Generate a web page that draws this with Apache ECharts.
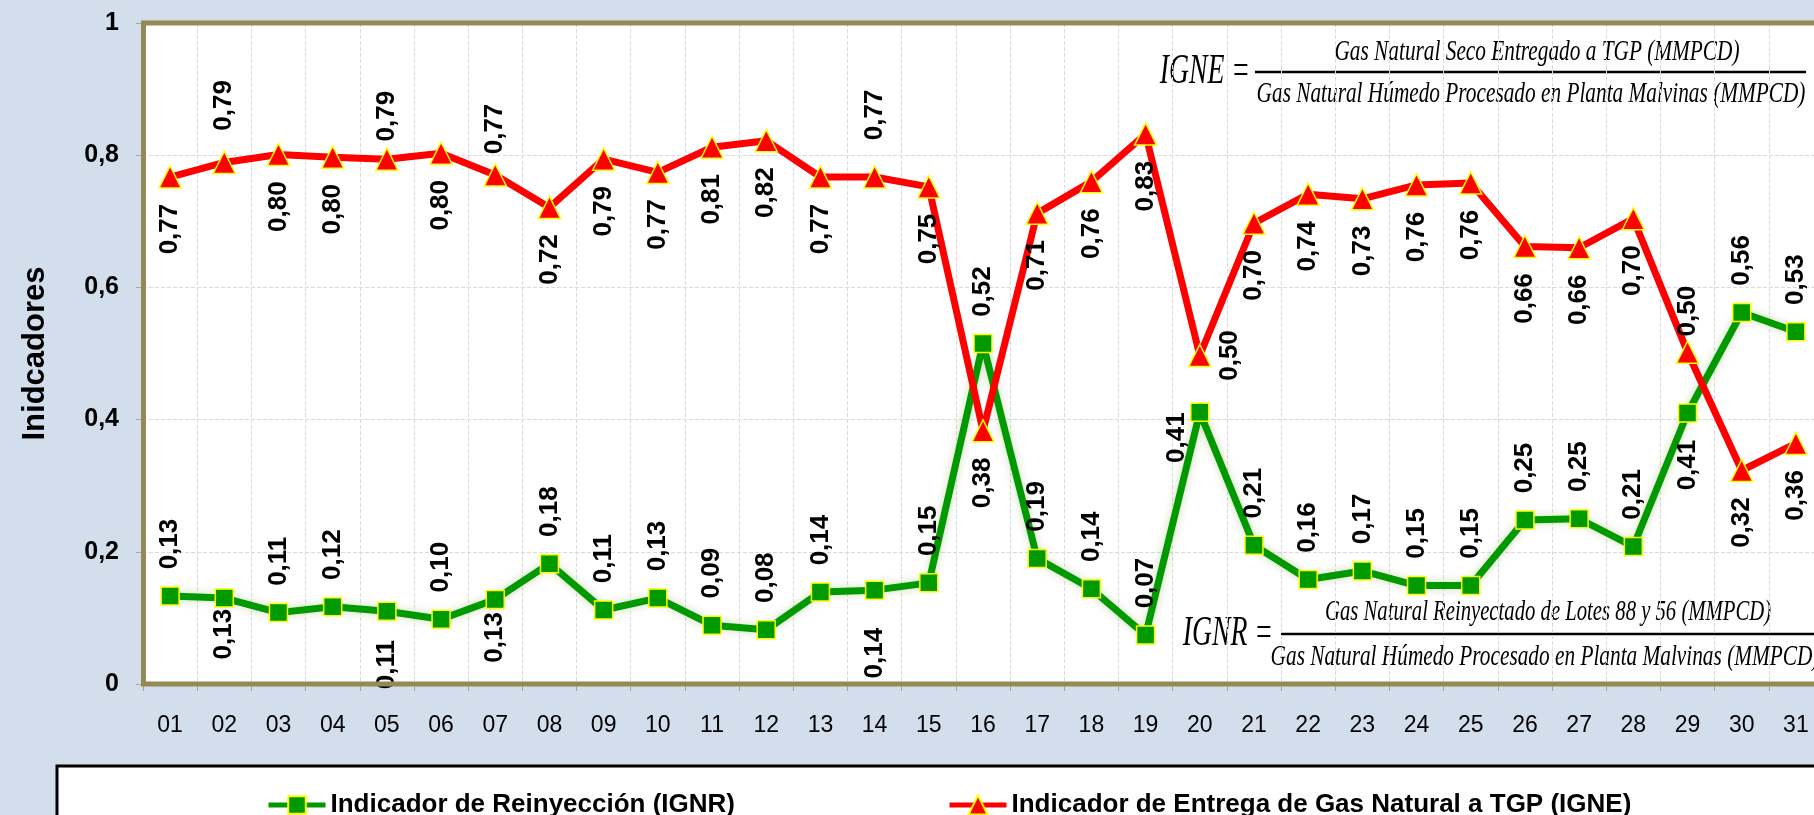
<!DOCTYPE html>
<html>
<head>
    <meta charset="utf-8">
    <title>Indicadores IGNR / IGNE</title>
    <script src="https://cdn.jsdelivr.net/npm/echarts@6.0.0/dist/echarts.min.js"></script>
    <style>
        html, body { margin: 0; padding: 0; background: #D3DEED; }
        #main { width: 1814px; height: 815px; }
    </style>
</head>
<body>
    <div id="main"></div>
    <script>
        // dias del mes
        var days = ['01', '02', '03', '04', '05', '06', '07', '08', '09', '10', '11', '12', '13', '14', '15', '16',
                    '17', '18', '19', '20', '21', '22', '23', '24', '25', '26', '27', '28', '29', '30', '31'];

        // Indicador de Reinyeccion (IGNR)
        var ignr = [0.133, 0.130, 0.108, 0.117, 0.110, 0.098, 0.128, 0.182, 0.112, 0.130, 0.089, 0.082, 0.139, 0.142, 0.153, 0.515,
                    0.190, 0.144, 0.074, 0.411, 0.210, 0.158, 0.171, 0.149, 0.149, 0.248, 0.250, 0.208, 0.410, 0.562, 0.533];

        // Indicador de Entrega de Gas Natural a TGP (IGNE)
        var igne = [0.767, 0.789, 0.801, 0.797, 0.794, 0.803, 0.770, 0.721, 0.794, 0.774, 0.812, 0.822, 0.767, 0.767, 0.752, 0.383,
                    0.712, 0.760, 0.832, 0.497, 0.697, 0.741, 0.734, 0.755, 0.758, 0.662, 0.660, 0.704, 0.502, 0.323, 0.364];

        var yTicks = [0, 0.2, 0.4, 0.6, 0.8, 1];

        // donde va cada etiqueta (t = arriba, b = abajo, l/r = lados) y su separacion
        var ignrSide = ['t','b','t','t','b','t','b','t','t','t','t','t','t','b','t','t','t','t','t','l','t','t','t','t','t','t','t','t','b','t','t'];
        var ignrGap  = [26, 10, 26, 26, 28, 26, 12, 26, 26, 26, 26, 26, 26, 37, 26, 26, 26, 26, 26, 22, 26, 26, 26, 26, 26, 26, 26, 26, 26, 26, 26];
        var igneSide = ['b','t','b','b','t','b','t','b','b','b','b','b','b','t','b','b','b','b','b','r','b','b','b','b','b','b','b','b','t','b','b'];
        var igneGap  = [26, 31, 26, 26, 17, 26, 20, 26, 26, 26, 26, 26, 26, 36, 26, 26, 26, 26, 26, 29, 26, 26, 26, 26, 26, 26, 26, 26, 15, 26, 26];

        function fmt(v) {
            return v.toFixed(2).replace('.', ',');
        }

        function buildData(vals, sides, gaps, half) {
            return vals.map(function (v, i) {
                var s = sides[i];
                var lab = { distance: gaps[i] - half };
                if (s === 't') { lab.position = 'top'; lab.align = 'left'; }
                else if (s === 'b') { lab.position = 'bottom'; lab.align = 'right'; }
                else if (s === 'r') { lab.position = 'right'; lab.align = 'center'; }
                else { lab.position = 'left'; lab.align = 'right'; }
                return { value: v, label: lab };
            });
        }

        var labelBase = {
            show: true,
            rotate: 90,
            verticalAlign: 'middle',
            color: '#000',
            fontFamily: 'Liberation Sans',
            fontWeight: 'bold',
            fontSize: 26,
            formatter: function (p) { return fmt(p.value); }
        };

        var eqFont = 'italic 30px "Liberation Serif"';
        var eqBig = 'italic 42px "Liberation Serif"';
        var legendText = { fontFamily: 'Liberation Sans', fontWeight: 'bold', fontSize: 26, color: '#000' };

        var myChart = echarts.init(document.getElementById('main'));

        var option = {
            backgroundColor: '#D3DEED',
            animation: false,
            grid: {
                left: 143,
                top: 23,
                width: 1680,
                height: 661,
                outerBoundsMode: 'none',
                containLabel: false,
                show: true,
                backgroundColor: '#FFFFFF',
                borderWidth: 0
            },
            legend: [{
                data: ['Indicador de Reinyección (IGNR)'],
                left: 261,
                top: 787,
                itemWidth: 57,
                itemHeight: 22,
                itemGap: 5,
                z: 10,
                lineStyle: { width: 5 },
                textStyle: legendText
            }, {
                data: ['Indicador de Entrega de Gas Natural a TGP (IGNE)'],
                left: 942,
                top: 787,
                itemWidth: 57,
                itemHeight: 24,
                itemGap: 5,
                z: 10,
                lineStyle: { width: 5 },
                textStyle: legendText
            }],
            xAxis: {
                type: 'category',
                data: days,
                boundaryGap: true,
                axisLine: { show: false },
                axisTick: { show: true, length: 7, lineStyle: { color: '#B0A980', width: 1 } },
                axisLabel: { margin: 30, fontFamily: 'Liberation Sans', fontSize: 23, color: '#000' },
                splitLine: { show: true, lineStyle: { color: '#DADADA', type: 'dashed', width: 1 } }
            },
            yAxis: {
                type: 'value',
                min: yTicks[0],
                max: yTicks[yTicks.length - 1],
                interval: 0.2,
                name: 'Inidcadores',
                nameLocation: 'middle',
                nameGap: 92,
                nameTextStyle: { fontFamily: 'Liberation Sans', fontWeight: 'bold', fontSize: 31, color: '#000' },
                axisLine: { show: false },
                axisTick: { show: true, length: 7, lineStyle: { color: '#B0A980', width: 1 } },
                axisLabel: {
                    margin: 24,
                    fontFamily: 'Liberation Sans', fontWeight: 'bold', fontSize: 25, color: '#000',
                    formatter: function (v) {
                        var r = Math.round(v * 10) / 10;
                        return String(r).replace('.', ',');
                    }
                },
                splitLine: { show: true, lineStyle: { color: '#DADADA', type: 'dashed', width: 1 } }
            },
            series: [{
                name: 'Indicador de Reinyección (IGNR)',
                type: 'line',
                data: buildData(ignr, ignrSide, ignrGap, 9),
                symbol: 'rect',
                symbolSize: 18,
                z: 2,
                lineStyle: { color: '#009900', width: 7, shadowColor: 'rgba(110,160,40,0.35)', shadowBlur: 8 },
                itemStyle: { color: '#009900', borderColor: '#FFFF00', borderWidth: 1.5 },
                label: labelBase
            }, {
                name: 'Indicador de Entrega de Gas Natural a TGP (IGNE)',
                type: 'line',
                data: buildData(igne, igneSide, igneGap, 11),
                symbol: 'triangle',
                symbolSize: 22,
                z: 3,
                lineStyle: { color: '#FF0000', width: 7 },
                itemStyle: { color: '#FF0000', borderColor: '#FFFF00', borderWidth: 1.5 },
                label: labelBase
            }],
            graphic: [
                // recuadro de la leyenda
                {
                    type: 'rect', z: 1,
                    shape: { x: 57, y: 766, width: 1800, height: 100 },
                    style: { fill: '#FFFFFF', stroke: '#000000', lineWidth: 3 }
                },
                // formula IGNE
                {
                    type: 'group', z: 20,
                    children: [
                        { type: 'rect', shape: { x: 1155, y: 28, width: 670, height: 86 }, style: { fill: '#FFFFFF' } },
                        { type: 'text', x: 1250, y: 72, scaleX: 0.66,
                          style: { text: 'IGNE =', font: eqBig, fill: '#000', align: 'right', verticalAlign: 'middle' } },
                        { type: 'text', x: 1537, y: 52, scaleX: 0.71,
                          style: { text: 'Gas Natural Seco Entregado a TGP (MMPCD)', font: eqFont, fill: '#000', align: 'center', verticalAlign: 'middle' } },
                        { type: 'line', shape: { x1: 1255, y1: 72, x2: 1806, y2: 72 }, style: { stroke: '#000', lineWidth: 2.5 } },
                        { type: 'text', x: 1531, y: 94, scaleX: 0.71,
                          style: { text: 'Gas Natural Húmedo Procesado en Planta Malvinas (MMPCD)', font: eqFont, fill: '#000', align: 'center', verticalAlign: 'middle' } }
                    ]
                },
                // formula IGNR
                {
                    type: 'group', z: 20,
                    children: [
                        { type: 'rect', shape: { x: 1178, y: 591, width: 650, height: 91 }, style: { fill: '#FFFFFF' } },
                        { type: 'text', x: 1273, y: 634, scaleX: 0.66,
                          style: { text: 'IGNR =', font: eqBig, fill: '#000', align: 'right', verticalAlign: 'middle' } },
                        { type: 'text', x: 1548, y: 612, scaleX: 0.69,
                          style: { text: 'Gas Natural Reinyectado de Lotes 88 y 56 (MMPCD)', font: eqFont, fill: '#000', align: 'center', verticalAlign: 'middle' } },
                        { type: 'line', shape: { x1: 1281, y1: 634, x2: 1814, y2: 634 }, style: { stroke: '#000', lineWidth: 2.5 } },
                        { type: 'text', x: 1545, y: 657, scaleX: 0.71,
                          style: { text: 'Gas Natural Húmedo Procesado en Planta Malvinas (MMPCD)', font: eqFont, fill: '#000', align: 'center', verticalAlign: 'middle' } }
                    ]
                },
                // marco del area de trazado
                {
                    type: 'rect', z: 30, silent: true,
                    shape: { x: 143.5, y: 23, width: 1680, height: 661 },
                    style: { fill: null, stroke: '#948A54', lineWidth: 5 }
                }
            ]
        };

        myChart.setOption(option);
    </script>
</body>
</html>
